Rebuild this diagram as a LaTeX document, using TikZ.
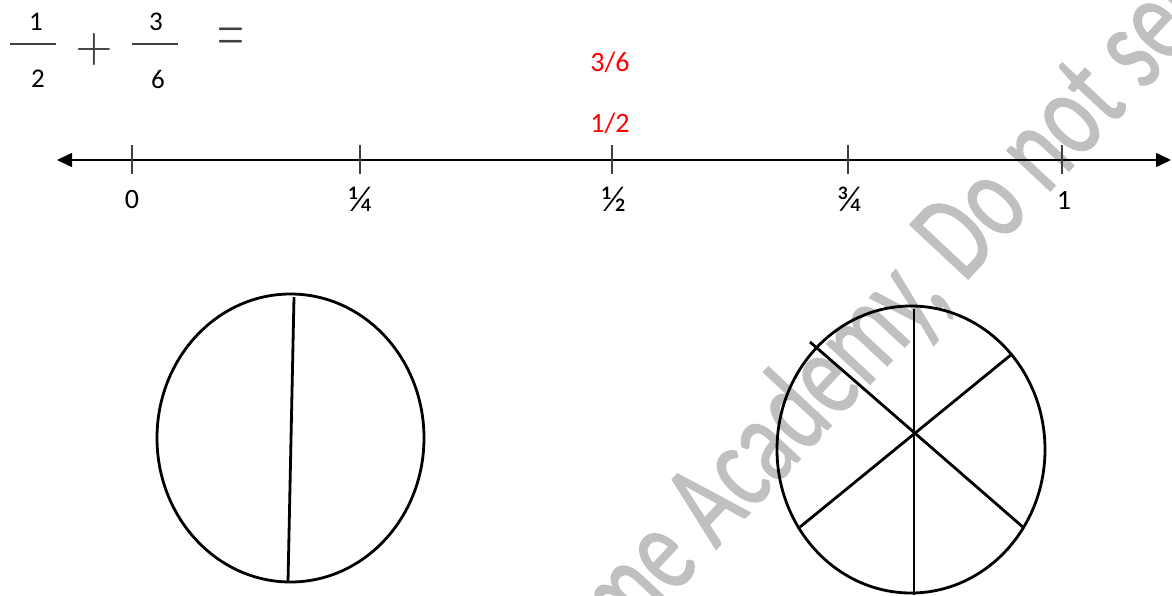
\documentclass[tikz,border=0pt]{standalone}
\usepackage{fontspec}
\setmainfont{Carlito}
\newfontfamily\wmfont[FakeBold=1.2]{Carlito}
\usetikzlibrary{arrows.meta}
\definecolor{wm}{RGB}{192,192,192}
\definecolor{dk}{RGB}{64,64,64}
\definecolor{redlbl}{RGB}{255,0,0}
\begin{document}
\begin{tikzpicture}[x=0.5pt,y=-0.5pt,
  lbl/.style={font=\fontsize{14}{16}\selectfont, inner sep=0},
  vf/.style={font=\fontsize{18}{20}\selectfont, inner sep=0},
  redl/.style={font=\fontsize{14}{16}\selectfont, inner sep=0, text=redlbl},
  frac/.style={font=\fontsize{13.5}{15}\selectfont, inner sep=0},
  bar/.style={draw=dk, line width=0.75pt},
  tickmark/.style={draw=dk, line width=0.9pt},
  shapeline/.style={draw=black, line width=1.4pt},
]
\useasboundingbox (0,0) rectangle (1172,595);
% watermark
\begin{scope}
\clip (0,0) rectangle (1172,595);
\node[anchor=base west, rotate=47, text=wm, font=\wmfont\fontsize{62}{62}\selectfont, inner sep=0] (watermark) at (624,648) {\scalebox{0.71}[1]{me Academy, Do not sell}};
\end{scope}
% equation
\node[frac] (n1) at (36,22) {1};
\node[frac] (d1) at (38,79) {2};
\draw[bar] (10,44) -- (56,44);
\node[inner sep=0, text=dk] (plus) at (94,49) {\scalebox{2.4}{$+$}};
\node[frac] (n2) at (156,22) {3};
\node[frac] (d2) at (158,79) {6};
\draw[bar] (132,44) -- (178,44);
\node[inner sep=0, text=dk] (eq) at (231,40) {\scalebox{1.73}[3.2]{$=$}};
% red labels
\node[redl] (r36) at (610,62) {3/6};
\node[redl] (r12) at (610,123) {1/2};
% number line
\coordinate (L) at (57,160);
\coordinate (R) at (1171,160);
\draw[line width=0.75pt, {Triangle[length=7.5pt,width=7pt]}-{Triangle[length=7.5pt,width=7pt]}] (L) -- (R);
\foreach \x in {132,360,612,848,1062} \draw[tickmark] (\x,145) -- (\x,174);
\node[lbl] (l0) at (132,200) {0};
\node[vf] (l1) at (360,199) {¼};
\node[vf] (l2) at (614,199) {½};
\node[vf] (l3) at (849,199) {¾};
\node[lbl] (l4) at (1064,200) {1};
% left ellipse
\coordinate (c1) at (290.5,438);
\draw[shapeline] (c1) ellipse [x radius=133.5, y radius=144];
\coordinate (a1) at (294,297);
\coordinate (a2) at (288,582);
\draw[shapeline] (a1) -- (a2);
% right circle
\coordinate (c2) at (911,449.5);
\draw[shapeline] (c2) ellipse [x radius=134, y radius=143.5];
\coordinate (s1) at (914,309);
\coordinate (s2) at (914,595);
\coordinate (s3) at (810,342);
\coordinate (s4) at (1024,528);
\coordinate (s5) at (1012,354);
\coordinate (s6) at (800,527);
\draw[shapeline] (s1) -- (s2);
\draw[shapeline] (s3) -- (s4);
\draw[shapeline] (s5) -- (s6);
\end{tikzpicture}
\end{document}
